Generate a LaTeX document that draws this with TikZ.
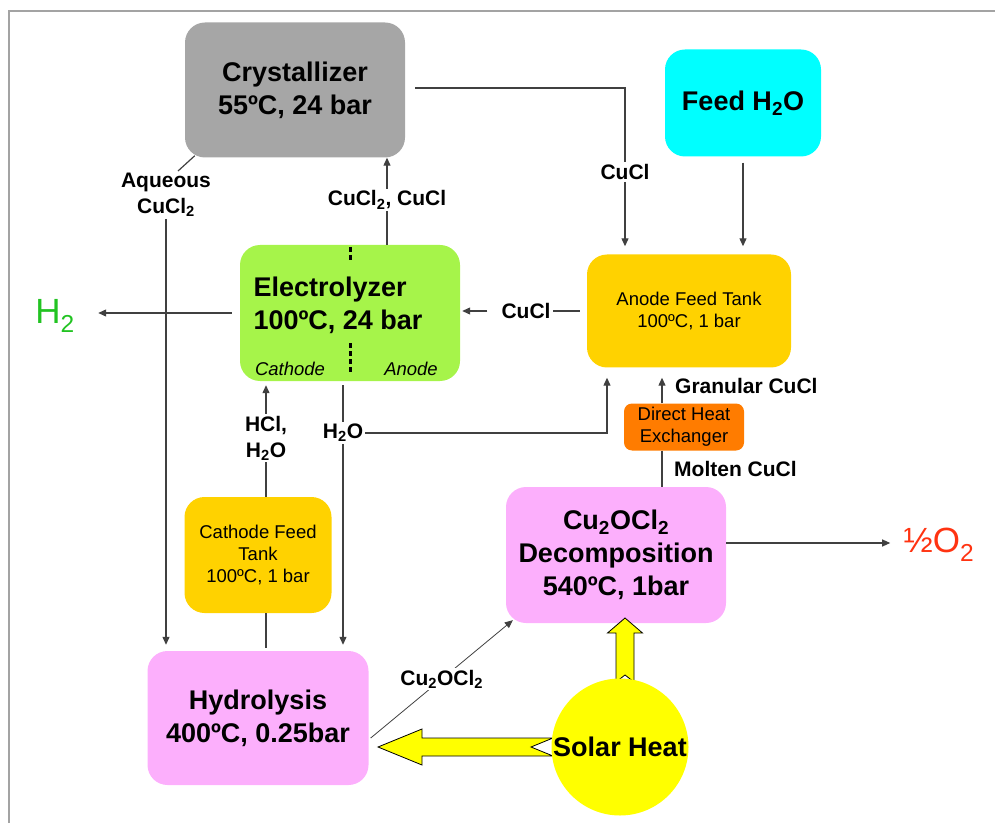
\documentclass[tikz,border=0pt]{standalone}
\usepackage{fontspec}
\setmainfont{Liberation Sans}
\usetikzlibrary{arrows.meta,calc}
\definecolor{crystgray}{HTML}{A6A6A6}
\definecolor{feedcyan}{HTML}{00FFFF}
\definecolor{elecgreen}{HTML}{A6F44A}
\definecolor{tankgold}{HTML}{FFD200}
\definecolor{hxorange}{HTML}{FF7C00}
\definecolor{reactpink}{HTML}{FCAFFC}
\definecolor{sunyellow}{HTML}{FFFF00}
\definecolor{hgreen}{HTML}{22C322}
\definecolor{ored}{HTML}{FF3311}
\definecolor{wiregray}{HTML}{404040}
\definecolor{framegray}{HTML}{A3A3A3}
\newcommand\unitfont{\fontsize{27}{33}\selectfont\bfseries}
\newcommand\tankfont{\fontsize{18.5}{22}\selectfont}
\newcommand\lblfont{\fontsize{21}{26}\selectfont\bfseries}
\tikzset{unit/.style={fill=#1,rounded corners=20pt,inner sep=0pt,align=center,font=\unitfont}, tank/.style={fill=#1,rounded corners=20pt,inner sep=0pt,align=center,font=\tankfont}, lbl/.style={align=center,font=\lblfont,inner sep=2pt}, wire/.style={draw=wiregray,line width=1.2pt}, flow/.style={wire,-{Triangle[length=8pt,width=7pt]}}, heat/.style={fill=sunyellow,draw=black,line width=0.8pt,line join=miter}, divider/.style={draw=black,line width=3pt,dash pattern=on 5pt off 3pt}}

\begin{document}
\begin{tikzpicture}[x=1pt,y=1pt]
\useasboundingbox (0,0) rectangle (995,823);
\draw[framegray,line width=2.5pt] (9,0) -- (9,812) -- (995,812);
% process units
\node[unit=crystgray,minimum width=220pt,minimum height=135pt] (cryst) at (295,733) {Crystallizer\\55ºC, 24 bar};
\node[unit=feedcyan,minimum width=156pt,minimum height=107pt] (feed) at (743,720) {Feed H\textsubscript{2}O};
\node[unit=elecgreen,minimum width=220pt,minimum height=136pt] (elec) at (350,510) {};
\node[font=\unitfont,align=left] (electext) at (338,518) {Electrolyzer\\100ºC, 24 bar};
\node[font=\tankfont\itshape] (cathlbl) at (290,454) {Cathode};
\node[font=\tankfont\itshape] (anolbl) at (411,454) {Anode};
\draw[divider] ([yshift=-2pt]elec.north) -- ++(0,-14);
\draw[divider] ([yshift=38pt]elec.south) -- ++(0,-29);
\node[tank=tankgold,minimum width=204pt,minimum height=113pt] (anode) at (689,512) {Anode Feed Tank\\100ºC, 1 bar};
\node[tank=hxorange,rounded corners=8pt,minimum width=120pt,minimum height=47pt] (dhx) at (684,396) {Direct Heat\\Exchanger};
\node[tank=tankgold,minimum width=147pt,minimum height=116pt] (cathode) at (258,268) {Cathode Feed\\Tank\\100ºC, 1 bar};
\node[unit=reactpink,minimum width=221pt,minimum height=134pt] (hydro) at (258,105) {Hydrolysis\\400ºC, 0.25bar};
\node[unit=reactpink,minimum width=220pt,minimum height=136pt] (decomp) at (616,268) {Cu\textsubscript{2}OCl\textsubscript{2}\\Decomposition\\540ºC, 1bar};
\node[font=\fontsize{35}{40}\selectfont,text=hgreen] (htwo) at (55,507) {H\textsubscript{2}};
\node[font=\fontsize{35}{40}\selectfont,text=ored] (otwo) at (939,278) {½O\textsubscript{2}};
% stream labels
\node[lbl] (cucla) at (625,651) {CuCl};
\node[lbl] (cuclb) at (526,512) {CuCl};
\node[lbl] (cuclc) at (387,623) {CuCl\textsubscript{2}, CuCl};
\node[lbl] (aq) at (166,628) {Aqueous\\CuCl\textsubscript{2}};
\node[lbl] (hcl) at (266,385) {HCl,\\H\textsubscript{2}O};
\node[lbl] (water) at (343,390) {H\textsubscript{2}O};
\node[lbl,anchor=west] (gran) at (673,437) {Granular CuCl};
\node[lbl,anchor=west] (molten) at (672,354) {Molten CuCl};
% streams
\draw[wire] ([xshift=10pt,yshift=2pt]cryst.east) -| (cucla);
\draw[flow,shorten >=8pt] (cucla) -- (cucla |- anode.north);
\draw[flow,shorten >=8pt] ([yshift=-6pt]feed.south) -- (feed.south |- anode.north);
\draw[wire] ([xshift=-7pt]anode.west) -- (cuclb);
\draw[flow,shorten >=2pt] ([xshift=-12pt]cuclb.west) -- (cuclb.west -| elec.east);
\draw[flow,shorten >=20pt] ([xshift=-8pt]elec.west) -- (elec.west -| htwo.east);
\draw[wire] (elec.north -| cuclc) -- (cuclc);
\draw[flow] (cuclc) -- (cuclc |- cryst.south);
\draw[wire] ($(cryst.south west)+(10,2)$) -- ($(aq.north)+(12,0)$);
\draw[flow,shorten >=6pt] (aq) -- (aq |- hydro.north);
\draw[wire] (cathode.north -| hcl) -- (hcl);
\draw[flow,shorten >=4pt] (hcl) -- (hcl |- elec.south);
\draw[wire] (cathode.south -| hcl) -- ([yshift=3pt]hcl |- hydro.north);
\draw[wire] ([yshift=-4pt]elec.south -| water) -- (water);
\draw[flow,shorten >=6pt] (water) -- (water |- hydro.north);
\draw[flow,shorten >=10pt] (water.east) -| ([xshift=-82pt]anode.south);
\draw[flow,line width=0.8pt] ($(hydro.east)+(2,-20)$) -- node[lbl,fill=white] (cuoc) {Cu\textsubscript{2}OCl\textsubscript{2}} ($(decomp.south west)+(7,3)$);
\draw[wire] ([xshift=-22pt]dhx.south) -- ([xshift=-22pt]dhx.south |- decomp.north);
\draw[flow,shorten >=10pt] ([xshift=-22pt]dhx.north) -- ([xshift=-22pt]dhx.north |- anode.south);
\draw[flow,shorten >=10pt] ([yshift=12pt]decomp.east) -- ([yshift=12pt]decomp.east -| otwo.west);
% solar heat
\coordinate (suncore) at (620,76);
\draw[heat] ($(suncore)+(-242,0)$) -- ++(44,18) -- ++(0,-9) -- ++(131,0) -- ++(-22,-9) -- ++(22,-9) -- ++(-131,0) -- ++(0,-9) -- cycle;
\draw[heat] ($(suncore)+(5,129)$) -- ++(17.5,-15) -- ++(-8.5,0) -- ++(0,-49) -- ++(-9,7) -- ++(-9,-7) -- ++(0,49) -- ++(-8.5,0) -- cycle;
\node[circle,fill=sunyellow,minimum size=137pt,inner sep=0pt,font=\unitfont] (sun) at (suncore) {Solar Heat};
\end{tikzpicture}
\end{document}
